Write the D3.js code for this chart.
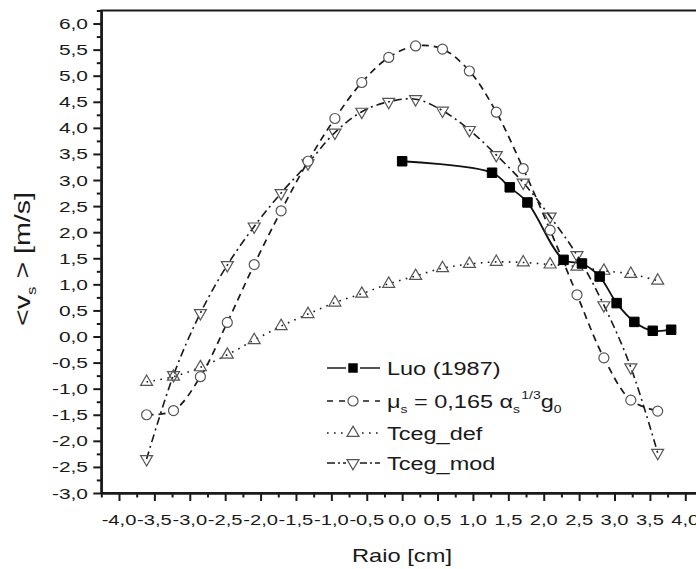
<!DOCTYPE html>
<html><head><meta charset="utf-8">
<script src="https://cdn.jsdelivr.net/npm/d3@7"></script>
<style>
html,body{margin:0;padding:0;background:#fff;}
svg{display:block;font-family:"Liberation Sans",Arial,sans-serif;}
</style></head>
<body>
<svg id="c" width="696" height="569"></svg>
<script>
// ---- data ----
const radius = [-3.61,-3.23,-2.85,-2.47,-2.09,-1.71,-1.33,-0.95,-0.57,-0.19,0.19,0.57,0.95,1.33,1.71,2.09,2.47,2.85,3.23,3.61];
const muVals = [-1.50,-1.42,-0.77,0.27,1.38,2.41,3.36,4.18,4.87,5.35,5.57,5.51,5.09,4.30,3.22,2.04,0.80,-0.41,-1.22,-1.43];
const tcegDef = [-0.87,-0.77,-0.59,-0.35,-0.07,0.20,0.43,0.65,0.82,1.01,1.16,1.31,1.39,1.43,1.42,1.38,1.34,1.26,1.20,1.07];
const tcegMod = [-2.35,-0.74,0.45,1.37,2.11,2.75,3.32,3.91,4.31,4.50,4.55,4.33,3.96,3.48,2.95,2.30,1.56,0.60,-0.59,-2.23];
const luoX = [0.00,1.27,1.52,1.77,2.28,2.54,2.79,3.03,3.28,3.54,3.80];
const luoY = [3.36,3.14,2.86,2.57,1.47,1.40,1.15,0.64,0.28,0.11,0.13];
const xTickVals = [-4.0,-3.5,-3.0,-2.5,-2.0,-1.5,-1.0,-0.5,0.0,0.5,1.0,1.5,2.0,2.5,3.0,3.5,4.0];
const yTickVals = [-3.0,-2.5,-2.0,-1.5,-1.0,-0.5,0.0,0.5,1.0,1.5,2.0,2.5,3.0,3.5,4.0,4.5,5.0,5.5,6.0];
const xMinorVals = [-4.25,-3.75,-3.25,-2.75,-2.25,-1.75,-1.25,-0.75,-0.25,0.25,0.75,1.25,1.75,2.25,2.75,3.25,3.75,4.25];
const yMinorVals = [-2.75,-2.25,-1.75,-1.25,-0.75,-0.25,0.25,0.75,1.25,1.75,2.25,2.75,3.25,3.75,4.25,4.75,5.25,5.75,6.25];
const legendNames = ["Luo (1987)", "mu", "Tceg_def", "Tceg_mod"];

const svg = d3.select("#c");
const L = 101.3, R = 703, T = 10.5, B = 493;
const x = d3.scaleLinear([-4.25, 4.25], [L, R]);
const y = d3.scaleLinear([-3, 6.25], [B, T]);
const fmt = v => v.toFixed(1).replace(".", ",");
const ink = "#1a1a1a";

// frame
svg.append("rect").attr("x", L).attr("y", T).attr("width", R - L).attr("height", B - T)
  .attr("fill", "none").attr("stroke", ink).attr("stroke-width", 2);

// axes (ticks)
function styleAxis(g){ g.select(".domain").attr("stroke",ink).attr("stroke-width",2);
  g.selectAll(".tick line").attr("stroke",ink).attr("stroke-width",2); }
svg.append("g").attr("transform", `translate(0,${B})`)
  .call(d3.axisBottom(x).tickValues(xTickVals).tickSize(8).tickSizeOuter(0).tickFormat(""))
  .call(styleAxis);
svg.append("g").attr("transform", `translate(0,${B})`)
  .call(d3.axisBottom(x).tickValues(xMinorVals).tickSize(4.5).tickSizeOuter(0).tickFormat(""))
  .call(styleAxis);
svg.append("g").attr("transform", `translate(${L},0)`)
  .call(d3.axisLeft(y).tickValues(yTickVals).tickSize(8).tickSizeOuter(0).tickFormat(""))
  .call(styleAxis);
svg.append("g").attr("transform", `translate(${L},0)`)
  .call(d3.axisLeft(y).tickValues(yMinorVals).tickSize(4.5).tickSizeOuter(0).tickFormat(""))
  .call(styleAxis);

// tick labels (horizontally widened like the reference)
svg.append("g").selectAll("text").data(xTickVals).join("text")
  .attr("transform", d => `translate(${x(d)},525) scale(1.3,1)`)
  .attr("text-anchor", "middle").attr("font-size", 15.5).attr("fill", ink).text(fmt);
svg.append("g").selectAll("text").data(yTickVals).join("text")
  .attr("transform", d => `translate(88,${y(d) + 5.5}) scale(1.35,1)`)
  .attr("text-anchor", "end").attr("font-size", 15.5).attr("fill", ink).text(fmt);

// axis titles
svg.append("text").attr("transform", "translate(402,562) scale(1.28,1)")
  .attr("text-anchor", "middle").attr("font-size", 18.5).attr("fill", ink).text("Raio [cm]");
const yt = svg.append("text").attr("transform", "translate(30,259) rotate(-90) scale(1.3,1)")
  .attr("text-anchor", "middle").attr("font-size", 22).attr("fill", ink);
yt.append("tspan").text("<v");
yt.append("tspan").attr("font-size", 13).attr("dy", 6).text("s");
yt.append("tspan").attr("dy", -6).text(" > [m/s]");

// lines
const curve = d3.curveCatmullRom.alpha(0.5);
const lineXY = d3.line().x(d => x(d[0])).y(d => y(d[1])).curve(curve);
const zip = (xs, ys) => xs.map((v, i) => [v, ys[i]]);
const muData = zip(radius, muVals), defData = zip(radius, tcegDef), modData = zip(radius, tcegMod), luoData = zip(luoX, luoY);

svg.append("path").attr("d", lineXY(defData)).attr("fill","none").attr("stroke",ink)
  .attr("stroke-width",1.6).attr("stroke-dasharray","1.6,5.4");
svg.append("path").attr("d", lineXY(modData)).attr("fill","none").attr("stroke",ink)
  .attr("stroke-width",1.6).attr("stroke-dasharray","8,4,2,4");
svg.append("path").attr("d", lineXY(muData)).attr("fill","none").attr("stroke",ink)
  .attr("stroke-width",1.7).attr("stroke-dasharray","7,5");
svg.append("path").attr("d", lineXY(luoData)).attr("fill","none").attr("stroke","#111")
  .attr("stroke-width",1.8);

// markers
const triUp = d3.symbol(d3.symbolTriangle, 62)();
const sq = d3.symbol(d3.symbolSquare, 90)();
const mk = "#555";
svg.append("g").selectAll("path").data(defData).join("path")
  .attr("d", triUp).attr("transform", d => `translate(${x(d[0])},${y(d[1])})`)
  .attr("fill","none").attr("stroke",mk).attr("stroke-width",1.2);
svg.append("g").selectAll("path").data(modData).join("path")
  .attr("d", triUp).attr("transform", d => `translate(${x(d[0])},${y(d[1])}) rotate(180)`)
  .attr("fill","none").attr("stroke",mk).attr("stroke-width",1.2);
svg.append("g").selectAll("circle").data(muData).join("circle")
  .attr("cx", d => x(d[0])).attr("cy", d => y(d[1])).attr("r", 5)
  .attr("fill","#fff").attr("stroke",mk).attr("stroke-width",1.2);
svg.append("g").selectAll("path").data(luoData).join("path")
  .attr("d", sq).attr("transform", d => `translate(${x(d[0])},${y(d[1])})`)
  .attr("fill","#000").attr("stroke","#000");

// legend
const lg = svg.append("g");
const rows = [368, 401, 433, 463];
const lx0 = 327, lx1 = 380, lmx = 353, tx = 387;
const dashes = [null, "6,6", "1.6,5.4", "8,3,2,3"];
rows.forEach((ry, i) => {
  const seg = lg.append("line").attr("x1", lx0).attr("x2", lx1).attr("y1", ry).attr("y2", ry)
    .attr("stroke", ink).attr("stroke-width", 1.7);
  if (dashes[i]) seg.attr("stroke-dasharray", dashes[i]);
});
lg.append("rect").attr("x", lmx - 5.5).attr("y", rows[0] - 5.5).attr("width", 11).attr("height", 11)
  .attr("fill", "#fff").attr("stroke", "#fff").attr("stroke-width", 3);
lg.append("path").attr("d", sq).attr("transform", `translate(${lmx},${rows[0]})`).attr("fill","#000");
lg.append("circle").attr("cx", lmx).attr("cy", rows[1]).attr("r", 5).attr("fill","#fff").attr("stroke",mk).attr("stroke-width",1.2);
lg.append("circle").attr("cx", lmx).attr("cy", rows[2]).attr("r", 7).attr("fill","#fff");
lg.append("path").attr("d", triUp).attr("transform", `translate(${lmx},${rows[2]})`).attr("fill","none").attr("stroke",mk).attr("stroke-width",1.2);
lg.append("circle").attr("cx", lmx).attr("cy", rows[3]).attr("r", 7).attr("fill","#fff");
lg.append("path").attr("d", triUp).attr("transform", `translate(${lmx},${rows[3]}) rotate(180)`).attr("fill","none").attr("stroke",mk).attr("stroke-width",1.2);

const lt = (ry) => lg.append("text").attr("transform", `translate(${tx},${ry + 7}) scale(1.27,1)`)
  .attr("font-size", 18.5).attr("fill", ink);
lt(rows[0]).text(legendNames[0]);
const t2 = lt(rows[1]);
t2.append("tspan").text("\u03bc");
t2.append("tspan").attr("font-size", 11).attr("dy", 5).text("s");
t2.append("tspan").attr("dy", -5).text(" = 0,165 \u03b1");
t2.append("tspan").attr("font-size", 11).attr("dy", 5).text("s");
t2.append("tspan").attr("font-size", 11).attr("dy", -14).attr("dx", 1).text("1/3");
t2.append("tspan").attr("dy", 9).text("g");
t2.append("tspan").attr("font-size", 11).attr("dy", 5).text("0");
lt(rows[2]).text(legendNames[2]);
lt(rows[3]).text(legendNames[3]);
</script>
</body></html>
